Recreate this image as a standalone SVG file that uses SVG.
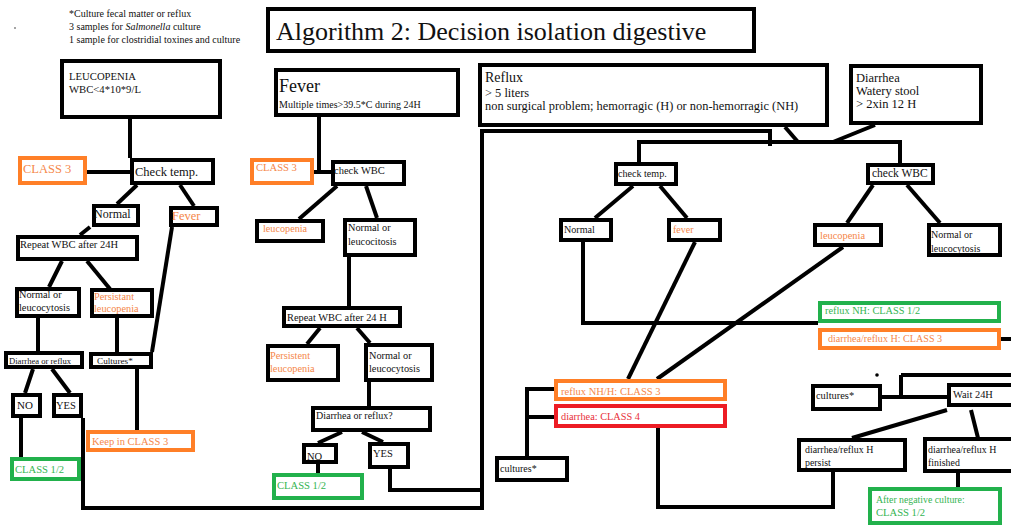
<svg xmlns="http://www.w3.org/2000/svg" width="1011" height="527" viewBox="0 0 1011 527">
<style>
text{font-family:"Liberation Serif","Times New Roman",serif;fill:#111}
.b{fill:#fff;stroke:#000;stroke-width:4}
.ob{fill:#fff;stroke:#ff7f27;stroke-width:4}
.gb{fill:#fff;stroke:#22b14c;stroke-width:4}
.rb{fill:#fff;stroke:#ed1c24;stroke-width:4}
.o{fill:#f5874a}
.g{fill:#35b552}
.r{fill:#e8303a}
.ln{fill:none;stroke:#000;stroke-width:4;stroke-linejoin:miter}
</style>
<rect width="1011" height="527" fill="#fff"/>
<g id="notes">
<text x="69" y="17" font-size="10">*Culture fecal matter or reflux</text>
<text x="69" y="30" font-size="10">3 samples for <tspan font-style="italic">Salmonella</tspan> culture</text>
<text x="69" y="43" font-size="10">1 sample for clostridial toxines and culture</text>
<circle cx="15" cy="28" r="0.8" fill="#333"/>
<circle cx="156" cy="110" r="0.8" fill="#333"/>
<circle cx="877" cy="375" r="1.8" fill="#000"/>
</g>
<g id="connectors" class="ln">
<path d="M130 119V158"/>
<path d="M87 172H133"/>
<path d="M137 185L117 204"/>
<path d="M180 185L194 206"/>
<path d="M90 227L80 235"/>
<path d="M62 261L49 287"/>
<path d="M87 261L110 289"/>
<path d="M38 318V351"/>
<path d="M117 318V352"/>
<path d="M172 227L152 352"/>
<path d="M33 369L25 393"/>
<path d="M52 369L70 393"/>
<path d="M21 418V457"/>
<path d="M137 369V430"/>
<path d="M83 418V508H482V131H770V146"/>
<path d="M319 117V172"/>
<path d="M314 172H331"/>
<path d="M337 186L299 219"/>
<path d="M366 186L377 218"/>
<path d="M349 257V306"/>
<path d="M320 328L307 344"/>
<path d="M357 328L370 343"/>
<path d="M369 382V406"/>
<path d="M342 432L318 443"/>
<path d="M362 432L383 442"/>
<path d="M318 464V473"/>
<path d="M390 469V490H482"/>
<path d="M639 162V142H900V163"/>
<path d="M785 127L798 142"/>
<path d="M875 125L833 142"/>
<path d="M633 186L595 218"/>
<path d="M660 186L687 218"/>
<path d="M873 185L847 223"/>
<path d="M907 185L940 223"/>
<path d="M583 242V323H818"/>
<path d="M695 242L628 379"/>
<path d="M843 247L657 379"/>
<path d="M554 389H527V456"/>
<path d="M527 417H554"/>
<path d="M1001 339H1011"/>
<path d="M901 375H1011"/>
<path d="M901 375V398"/>
<path d="M882 397H947"/>
<path d="M947 410L852 438"/>
<path d="M971 410L978 438"/>
<path d="M658 428V507H833V472"/>
<path d="M958 473V489"/>
</g>
<g id="title"><rect class="b" x="268" y="9" width="486" height="42"/><text x="276" y="40" font-size="26">Algorithm 2: Decision isolation digestive</text></g>
<g id="leucopenia-start"><rect class="b" x="62" y="61" width="158" height="56"/><text x="69" y="80" font-size="10.7">LEUCOPENIA</text><text x="69" y="93" font-size="10.7">WBC&lt;4*10*9/L</text></g>
<g id="check-temp-l"><rect class="b" x="132" y="160" width="81" height="23"/><text x="135" y="176" font-size="12.5">Check temp.</text></g>
<g id="class3-l"><rect class="ob" x="20" y="158" width="65" height="25"/><text class="o" x="23" y="173" font-size="12.5">CLASS 3</text></g>
<g id="normal-l"><rect class="b" x="94" y="206" width="44" height="19"/><text x="94" y="218" font-size="12">Normal</text></g>
<g id="fever-l"><rect class="b" x="171" y="208" width="46" height="17"/><text class="o" x="172" y="220" font-size="12.5">Fever</text></g>
<g id="repeat-l"><rect class="b" x="18" y="237" width="119" height="22"/><text x="20" y="248" font-size="10.5">Repeat WBC after 24H</text></g>
<g id="normleuco-l"><rect class="b" x="17" y="289" width="62" height="27"/><text x="19" y="298" font-size="10.3">Normal or</text><text x="19" y="311" font-size="10.3">leucocytosis</text></g>
<g id="persist-l"><rect class="b" x="92" y="290" width="60" height="26"/><text class="o" x="94" y="300" font-size="10.3">Persistant</text><text class="o" x="94" y="312" font-size="10.3">leucopenia</text></g>
<g id="diarr-l"><rect class="b" x="6" y="353" width="76" height="14"/><text x="9" y="364" font-size="8.6">Diarrhea or reflux</text></g>
<g id="cultures-l"><rect class="b" x="91" y="354" width="60" height="13"/><text x="97" y="364" font-size="9.2">Cultures*</text></g>
<g id="no-l"><rect class="b" x="13" y="395" width="27" height="21"/><text x="17" y="409" font-size="11">NO</text></g>
<g id="yes-l"><rect class="b" x="54" y="395" width="27" height="21"/><text x="56" y="409" font-size="10.5">YES</text></g>
<g id="class12-l"><rect class="gb" x="12" y="459" width="67" height="20"/><text class="g" x="15" y="473" font-size="10.6">CLASS 1/2</text></g>
<g id="keep3"><rect class="ob" x="88" y="432" width="105" height="18"/><text class="o" x="92" y="445" font-size="10.5">Keep in CLASS 3</text></g>
<g id="fever-start"><rect class="b" x="276" y="70" width="182" height="45"/><text x="279" y="92" font-size="18">Fever</text><text x="279" y="108" font-size="10">Multiple times&gt;39.5*C during 24H</text></g>
<g id="class3-f"><rect class="ob" x="252" y="160" width="60" height="23"/><text class="o" x="256" y="171" font-size="10.6">CLASS 3</text></g>
<g id="check-wbc-f"><rect class="b" x="333" y="162" width="71" height="22"/><text x="334" y="174" font-size="10.5">check WBC</text></g>
<g id="leuco-f"><rect class="b" x="257" y="221" width="66" height="20"/><text class="o" x="263" y="232" font-size="10.2">leucopenia</text></g>
<g id="normleuco-f"><rect class="b" x="345" y="220" width="70" height="35"/><text x="348" y="231" font-size="10.3">Normal or</text><text x="348" y="245" font-size="10.3">leucocitosis</text></g>
<g id="repeat-f"><rect class="b" x="284" y="308" width="116" height="18"/><text x="287" y="321" font-size="10.4">Repeat WBC after 24 H</text></g>
<g id="persist-f"><rect class="b" x="268" y="346" width="70" height="34"/><text class="o" x="270" y="359" font-size="10.3">Persistent</text><text class="o" x="270" y="372" font-size="10.3">leucopenia</text></g>
<g id="normleuco-f2"><rect class="b" x="366" y="345" width="66" height="35"/><text x="369" y="359" font-size="10.3">Normal or</text><text x="369" y="372" font-size="10.3">leucocytosis</text></g>
<g id="diarr-f"><rect class="b" x="313" y="408" width="117" height="22"/><text x="316" y="419" font-size="10">Diarrhea or reflux?</text></g>
<g id="no-f"><rect class="b" x="304" y="445" width="32" height="17"/><text x="307" y="460" font-size="10.5">NO</text></g>
<g id="yes-f"><rect class="b" x="370" y="444" width="38" height="23"/><text x="373" y="457" font-size="10.5">YES</text></g>
<g id="class12-f"><rect class="gb" x="274" y="475" width="88" height="23"/><text class="g" x="277" y="489" font-size="10.6">CLASS 1/2</text></g>
<g id="reflux-start"><rect class="b" x="480" y="65" width="347" height="60"/><text x="485" y="82" font-size="14">Reflux</text><text x="485" y="97" font-size="12.4">&gt; 5 liters</text><text x="485" y="110" font-size="12.4">non surgical problem; hemorragic (H) or non-hemorragic (NH)</text></g>
<g id="diarrhea-start"><rect class="b" x="851" y="66" width="130" height="57"/><text x="856" y="82" font-size="12.5">Diarrhea</text><text x="856" y="95" font-size="12.5">Watery stool</text><text x="856" y="108" font-size="12.5">&gt; 2xin 12 H</text></g>
<g id="check-temp-r"><rect class="b" x="616" y="164" width="60" height="20"/><text x="618" y="177" font-size="10.1">check temp.</text></g>
<g id="normal-r"><rect class="b" x="561" y="220" width="50" height="20"/><text x="564" y="233" font-size="10.1">Normal</text></g>
<g id="fever-r"><rect class="b" x="669" y="220" width="51" height="20"/><text class="o" x="673" y="233" font-size="10">fever</text></g>
<g id="check-wbc-r"><rect class="b" x="868" y="165" width="65" height="18"/><text x="872" y="177" font-size="11.5">check WBC</text></g>
<g id="leuco-r"><rect class="b" x="815" y="225" width="66" height="20"/><text class="o" x="820" y="239" font-size="10.4">leucopenia</text></g>
<g id="normleuco-r"><rect class="b" x="929" y="225" width="71" height="30"/><text x="931" y="238" font-size="10">Normal or</text><text x="931" y="252" font-size="10">leucocytosis</text></g>
<g id="refluxnh-class12"><rect class="gb" x="820" y="303" width="179" height="18"/><text class="g" x="825" y="314" font-size="10.3">reflux NH: CLASS 1/2</text></g>
<g id="diarrh-class3"><rect class="ob" x="820" y="330" width="179" height="18"/><text class="o" x="828" y="342" font-size="10.1">diarrhea/reflux H: CLASS 3</text></g>
<g id="refluxnhh-class3"><rect class="ob" x="556" y="381" width="169" height="18"/><text class="o" x="561" y="395" font-size="10.5">reflux NH/H: CLASS 3</text></g>
<g id="diarr-class4"><rect class="rb" x="556" y="406" width="169" height="20"/><text class="r" x="561" y="420" font-size="10.3">diarrhea: CLASS 4</text></g>
<g id="cultures-m"><rect class="b" x="497" y="458" width="70" height="22"/><text x="500" y="472" font-size="10">cultures*</text></g>
<g id="cultures-r"><rect class="b" x="813" y="386" width="67" height="23"/><text x="816" y="399" font-size="10.4">cultures*</text></g>
<g id="wait24"><rect class="b" x="949" y="385" width="70" height="20"/><text x="953" y="398" font-size="10.4">Wait 24H</text></g>
<g id="persist-r"><rect class="b" x="799" y="440" width="106" height="30"/><text x="805" y="453" font-size="9.9">diarrhea/reflux H</text><text x="805" y="466" font-size="9.9">persist</text></g>
<g id="finished-r"><rect class="b" x="925" y="439" width="90" height="32"/><text x="928" y="453" font-size="9.9">diarrhea/reflux H</text><text x="928" y="466" font-size="9.9">finished</text></g>
<g id="after-neg"><rect class="gb" x="870" y="489" width="130" height="34"/><text class="g" x="876" y="503" font-size="9.8">After negative culture:</text><text class="g" x="876" y="516" font-size="10.6">CLASS 1/2</text></g>
</svg>
